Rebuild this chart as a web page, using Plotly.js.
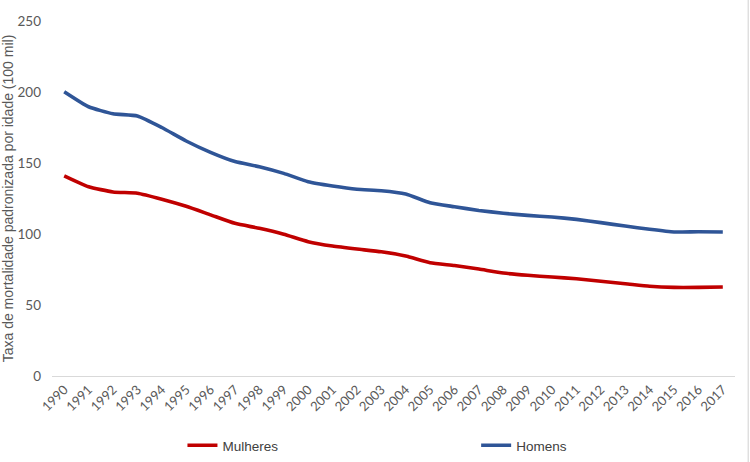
<!DOCTYPE html>
<html>
<head>
<meta charset="utf-8">
<script src="https://cdn.plot.ly/plotly-3.0.1.min.js"></script>
<style>html,body{margin:0;padding:0;background:#fff;}#chart{width:750px;height:462px;}</style>
</head>
<body>
<div id="chart"></div>
<script>
var years = ['1990','1991','1992','1993','1994','1995','1996','1997','1998','1999','2000','2001','2002','2003','2004','2005','2006','2007','2008','2009','2010','2011','2012','2013','2014','2015','2016','2017'];
var mulheres = [141, 133.3, 129.6, 128.7, 124.5, 119.5, 113.5, 107.5, 104, 99.8, 94.6, 91.5, 89.4, 87.5, 84.5, 79.8, 77.8, 75.3, 72.5, 70.9, 69.7, 68.5, 66.7, 65, 63.2, 62.4, 62.4, 62.7];
var homens = [200.2, 189.6, 184.7, 183.1, 175, 165.5, 157.5, 151, 147.4, 142.7, 136.8, 133.8, 131.5, 130.5, 128.2, 122, 119.2, 116.6, 114.6, 113.1, 112, 110.3, 108, 105.6, 103.3, 101.4, 101.6, 101.4];
var yTicks = [0, 50, 100, 150, 200, 250];

var traces = [
  {x: years, y: mulheres, name: 'Mulheres', type: 'scatter', mode: 'lines', legend: 'legend',
   line: {color: '#C00000', width: 3.6, shape: 'spline', smoothing: 0.5}},
  {x: years, y: homens, name: 'Homens', type: 'scatter', mode: 'lines', legend: 'legend2',
   line: {color: '#2F5597', width: 3.6, shape: 'spline', smoothing: 0.5}}
];

var legFont = {family: 'Liberation Sans, Arial, sans-serif', size: 13.5, color: '#404040'};

var layout = {
  width: 750, height: 462,
  margin: {l: 52, r: 15, t: 21, b: 86, autoexpand: false},
  paper_bgcolor: '#ffffff', plot_bgcolor: '#ffffff',
  showlegend: true,
  legend: {orientation: 'h', x: 0.191, xanchor: 'left', y: -0.152, yanchor: 'top',
           font: legFont, itemwidth: 30},
  legend2: {orientation: 'h', x: 0.621, xanchor: 'left', y: -0.152, yanchor: 'top',
           font: legFont, itemwidth: 30},
  xaxis: {type: 'category', range: [-0.5, 27.5], tickangle: -45, automargin: false,
          showgrid: false, zeroline: false, showline: true, linecolor: '#d9d9d9', linewidth: 1,
          ticks: '', tickfont: {family: 'Lato, Calibri, sans-serif', size: 13, color: '#595959'},
          fixedrange: true},
  yaxis: {range: [0, 250], tickvals: yTicks, showgrid: false, zeroline: false, showline: false,
          ticks: '', ticklabelstandoff: 10, automargin: false,
          tickfont: {family: 'Lato, Calibri, sans-serif', size: 13.5, color: '#595959'},
          title: {text: 'Taxa de mortalidade padronizada por idade (100 mil)',
                  font: {family: 'Liberation Sans, Arial, sans-serif', size: 14, color: '#595959'},
                  standoff: 8},
          fixedrange: true},
  shapes: [{type: 'line', xref: 'paper', yref: 'paper', x0: 1.0193, x1: 1.0193, y0: -0.25, y1: 1.07,
            line: {color: '#d0d0d0', width: 1}}]
};

Plotly.newPlot('chart', traces, layout, {displayModeBar: false, staticPlot: true});
</script>
</body>
</html>
